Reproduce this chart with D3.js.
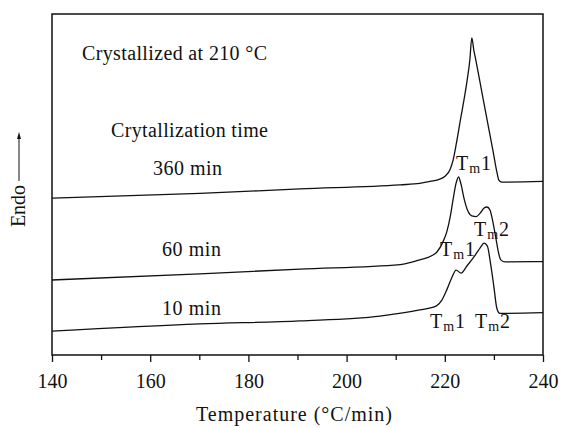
<!DOCTYPE html>
<html>
<head>
<meta charset="utf-8">
<script src="https://cdn.jsdelivr.net/npm/d3@7"></script>
<style>
  html, body { margin: 0; padding: 0; background: #fff; }
  svg { display: block; }
  text { font-family: "Liberation Serif", "Times New Roman", serif; fill: #111; }
</style>
</head>
<body>
<svg id="chart" width="561" height="428"></svg>
<script>
// DSC melting endotherms after isothermal crystallization at 210 °C
// Temperature (°C) and endothermic heat flow (arbitrary units, curves offset)
const temp360 = [140.0, 170.1, 190.5, 210.9, 214.9, 217.0, 219.0, 220.1, 221.1, 221.7, 222.3, 223.1, 224.5, 225.1, 225.5, 225.9, 226.4, 227.2, 228.5, 229.9, 230.6, 231.0, 231.6, 240.0];
const endo360 = [46.0, 47.4, 48.7, 49.9, 50.3, 50.9, 51.6, 52.5, 54.5, 57.2, 61.6, 68.3, 80.1, 86.5, 93.0, 89.5, 85.9, 79.8, 69.8, 59.2, 53.7, 51.3, 50.7, 50.9];

const temp60 = [140.0, 170.1, 190.5, 210.9, 214.9, 217.6, 218.4, 219.6, 220.4, 221.1, 221.7, 222.3, 222.8, 223.3, 223.9, 224.7, 225.5, 226.4, 227.2, 228.0, 228.6, 229.2, 229.8, 230.4, 231.0, 231.4, 232.3, 240.0];
const endo60 = [22.0, 23.8, 25.2, 26.5, 27.9, 29.3, 30.2, 33.1, 36.1, 40.5, 45.7, 50.4, 52.2, 50.1, 46.0, 42.2, 40.8, 40.6, 41.6, 43.1, 43.4, 42.5, 39.0, 34.3, 29.6, 27.9, 27.3, 27.4];

const temp10 = [140.0, 170.1, 190.5, 206.8, 214.9, 218.3, 219.4, 220.4, 221.4, 222.3, 223.3, 224.5, 226.2, 227.2, 228.0, 228.7, 229.3, 230.0, 230.6, 231.2, 240.0];
const endo10 = [7.0, 9.1, 10.0, 11.4, 13.2, 14.4, 16.1, 19.1, 22.6, 24.9, 24.0, 26.1, 29.3, 31.4, 32.8, 31.8, 27.0, 20.0, 13.7, 12.2, 12.4];

const seriesNames = ["360 min", "60 min", "10 min"];
const xMajorTicks = [140, 160, 180, 200, 220, 240];
const xMinorTicks = [150, 170, 190, 210, 230];

const W = 561, H = 428;
const margin = { left: 52, right: 18, top: 14, bottom: 73 };
const plotW = W - margin.left - margin.right;
const plotH = H - margin.top - margin.bottom;

const svg = d3.select("#chart");
const g = svg.append("g").attr("transform", `translate(${margin.left},${margin.top})`);

const x = d3.scaleLinear().domain([140, 240]).range([0, plotW]);
const y = d3.scaleLinear().domain([0, 100]).range([plotH, 0]);

const line = d3.line()
  .x(d => x(d[0]))
  .y(d => y(d[1]))
  .curve(d3.curveMonotoneX);

const curves = [
  d3.zip(temp360, endo360),
  d3.zip(temp60, endo60),
  d3.zip(temp10, endo10)
];

g.selectAll("path.curve")
  .data(curves)
  .join("path")
  .attr("class", "curve")
  .attr("d", line)
  .attr("fill", "none")
  .attr("stroke", "#111")
  .attr("stroke-width", 1.3);

// frame
g.append("rect")
  .attr("x", 0).attr("y", 0)
  .attr("width", plotW).attr("height", plotH)
  .attr("fill", "none")
  .attr("stroke", "#111")
  .attr("stroke-width", 1.5);

// x axis: minor and major ticks pointing outward
const minorAxis = d3.axisBottom(x).tickValues(xMinorTicks).tickSize(5).tickFormat("").tickSizeOuter(0);
const majorAxis = d3.axisBottom(x).tickValues(xMajorTicks).tickSize(7).tickPadding(12).tickSizeOuter(0).tickFormat(d3.format("d"));

const gMinor = g.append("g").attr("transform", `translate(0,${plotH})`).call(minorAxis);
const gMajor = g.append("g").attr("transform", `translate(0,${plotH})`).call(majorAxis);
[gMinor, gMajor].forEach(a => {
  a.select(".domain").remove();
  a.selectAll("line").attr("stroke", "#111").attr("stroke-width", 1.3);
});
gMajor.selectAll("text")
  .attr("font-size", 20)
  .attr("font-family", "Liberation Serif, Times New Roman, serif")
  .attr("fill", "#111");

// axis titles
svg.append("text")
  .attr("x", 294).attr("y", 421)
  .attr("text-anchor", "middle")
  .attr("font-size", 20)
  .attr("textLength", 196)
  .text("Temperature (°C/min)");

svg.append("text")
  .attr("transform", "translate(25,206) rotate(-90)")
  .attr("text-anchor", "middle")
  .attr("font-size", 20)
  .text("Endo");

// endotherm direction arrow
svg.append("line")
  .attr("x1", 19).attr("x2", 19)
  .attr("y1", 181).attr("y2", 138)
  .attr("stroke", "#111").attr("stroke-width", 1);
svg.append("path")
  .attr("d", "M19,132 L17,139 L21,139 Z")
  .attr("fill", "#111");

// annotations
svg.append("text")
  .attr("x", 82).attr("y", 60)
  .attr("font-size", 20)
  .attr("textLength", 185)
  .text("Crystallized at 210 °C");

svg.append("text")
  .attr("x", 111).attr("y", 137)
  .attr("font-size", 20)
  .attr("textLength", 157)
  .text("Crytallization time");

const seriesLabelPos = [[153, 175], [162, 256], [162, 315]];
svg.selectAll("text.series")
  .data(seriesNames)
  .join("text")
  .attr("class", "series")
  .attr("x", (d, i) => seriesLabelPos[i][0])
  .attr("y", (d, i) => seriesLabelPos[i][1])
  .attr("font-size", 20)
  .attr("textLength", (d, i) => i === 0 ? 69 : 59)
  .text(d => d);

// melting peak labels (T with subscript m)
const peakLabels = [
  { n: "1", x: 456, y: 170 },
  { n: "1", x: 440, y: 256 },
  { n: "2", x: 474, y: 236 },
  { n: "1", x: 430, y: 328 },
  { n: "2", x: 475, y: 328 }
];
peakLabels.forEach(p => {
  const t = svg.append("text").attr("x", p.x).attr("y", p.y).attr("font-size", 20);
  t.append("tspan").text("T");
  t.append("tspan").attr("dx", 1).attr("dy", 3).attr("font-size", 14).text("m");
  t.append("tspan").attr("dx", 1).attr("dy", -3).text(p.n);
});
</script>
</body>
</html>
